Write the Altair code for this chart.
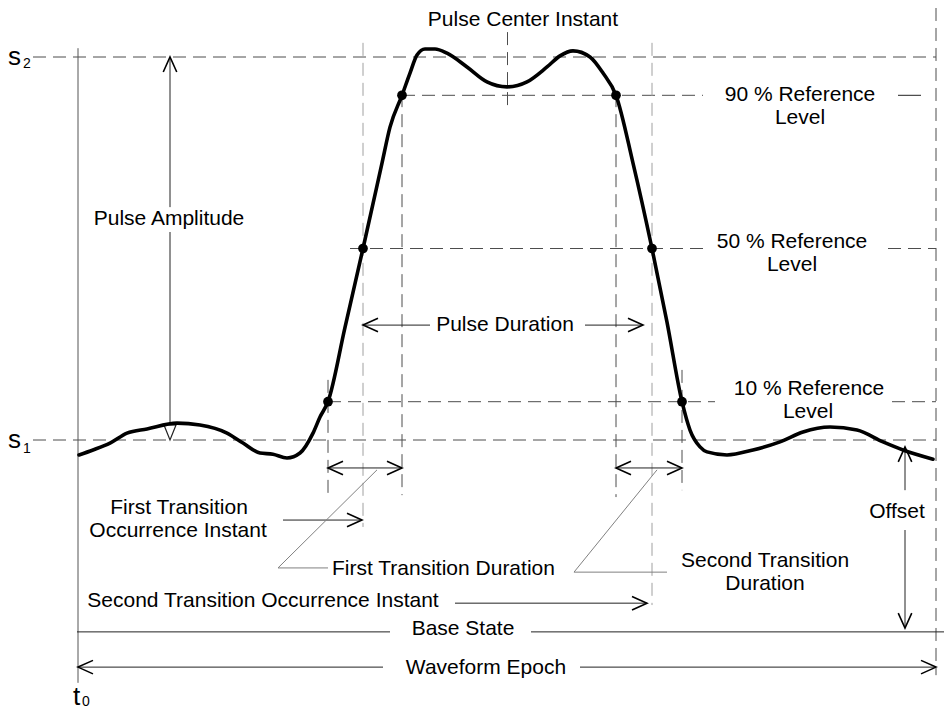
import altair as alt
import pandas as pd

# ---------------- data (time in units from t0, level in % of pulse amplitude: s1 = 0, s2 = 100)
wave_t = [1, 15, 32, 49, 69, 99, 122, 149, 165, 182, 195, 209, 222, 235, 242, 250, 267, 285,
          304, 312, 324, 332, 339, 347, 357, 369, 389, 409, 429, 449, 469, 482, 495, 512, 525,
          538, 555, 574, 589, 604, 612, 622, 629, 649, 675, 702, 725, 752, 779, 805, 825, 855]
wave_level = [-3.9, -2.6, -0.8, 1.8, 2.9, 4.4, 3.9, 1.8, -0.8, -3.4, -3.7, -4.7, -3.4, 1.8, 6.0,
              10, 29.4, 50, 72.3, 81.7, 90, 95.8, 100.5, 102.1, 102.1, 101.0, 97.4, 93.5, 92.2,
              93.5, 97.4, 100.3, 101.6, 100, 95.8, 90, 72.3, 50, 30.8, 10, 2.6, -1.8, -3.1, -3.9,
              -2.6, -0.5, 2.1, 3.4, 2.6, -0.5, -2.6, -5.0]

# reference-level crossings (first and second transition)
cross_t = [250, 285, 324, 538, 574, 604]
cross_level = [10, 50, 90, 90, 50, 10]

# states
s1_level = 0
s2_level = 100

# dashed reference lines: t1, t2, level1, level2
dash_t1 = [-45, -45, 324, 272, 810, 250, 814, 250, 324, 429.5, 538, 604, 858]
dash_t2 = [858, 858, 625, 627, 858, 637, 858, 250, 324, 429.5, 538, 604, 858]
dash_l1 = [100, 0, 90, 50, 50, 10, 10, 15.7, 90.3, 106.5, 90.3, 18.3, 112.8]
dash_l2 = [100, 0, 90, 50, 50, 10, 10, -14.4, -14.4, 86.2, -14.9, -13.1, -61.4]

# light dashed lines (50 % instants)
light_t = [285, 574]
light_l1 = [103.7, 103.7]
light_l2 = [-22.7, -43.1]

# solid annotation lines
sol_t1 = [92, 92, 285, 507, 250, 538, 205, 377, -1, 453, 0, 502, 827, 827, 820]
sol_t2 = [92, 92, 352, 565, 324, 604, 284, 569, 312, 874, 305, 858, 827, 827, 843]
sol_l1 = [100, 54.3, 30, 30, -7.3, -7.3, -20.9, -42.6, -50.1, -50.1, -59.3, -59.3, -1.8, -23.5, 90]
sol_l2 = [60.8, 4.4, 30, 30, -7.3, -7.3, -20.9, -42.6, -50.1, -50.1, -59.3, -59.3, -13.1, -49.1, 90]

# t0 marker line
t0_t = [0, 0]
t0_level = [102.3, -63.4]

# leader lines (group, t, level)
lead_group = [1, 1, 1, 2, 2, 2]
lead_t = [299, 200, 250, 579, 496, 589]
lead_level = [-7.8, -33.4, -33.4, -7.8, -34.5, -34.5]

# arrowheads: t, level, direction (degrees, 0 = right)
arr_t = [92, 285, 565, 250, 324, 538, 604, 284, 569, 827, 827, 0, 858]
arr_level = [100, 30, 30, -7.3, -7.3, -7.3, -7.3, -20.9, -42.6, -1.8, -49.1, -59.3, -59.3]
arr_dir = [270, 180, 0, 180, 0, 180, 0, 0, 0, 270, 90, 180, 0]

# labels
lab_text = ["Pulse Center Instant", "Pulse Amplitude", "90 % Reference", "Level",
            "50 % Reference", "Level", "10 % Reference", "Level", "Pulse Duration",
            "First Transition", "Occurrence Instant", "First Transition Duration",
            "Second Transition", "Duration", "Second Transition Occurrence Instant",
            "Base State", "Waveform Epoch", "Offset"]
lab_t = [445, 91, 722, 722, 714, 714, 731, 730, 427, 101, 100, 254, 687, 687, 185, 385, 408, 819]
lab_level = [109.7, 57.7, 90.1, 84.1, 51.6, 45.7, 13.3, 7.3, 30.0, -17.8, -23.8, -33.7,
             -31.6, -37.6, -42.0, -49.3, -59.5, -18.8]
lab_align = ["center"] * 11 + ["left"] + ["center"] * 6

sym_text = ["s", "s", "t"]
sym_t = [-70, -70, -5]
sym_level = [97.9, -2.1, -69.2]
sub_text = ["2", "1", "0"]
sub_t = [-55, -55, 4]
sub_level = [97.1, -3.4, -69.5]

# ---------------- chart
FONT = "Liberation Sans"
xs = alt.Scale(domain=[-70, 866], nice=False, zero=False)
ys = alt.Scale(domain=[(440 - 711) / 3.83, (440 - 8) / 3.83], nice=False, zero=False)


def X(f="t"):
    return alt.X(f + ":Q", scale=xs, axis=None)


def Y(f="level"):
    return alt.Y(f + ":Q", scale=ys, axis=None)


seg_enc = dict(x=X("t1"), x2="t2:Q", y=Y("l1"), y2="l2:Q")

dash_df = pd.DataFrame({"t1": dash_t1, "t2": dash_t2, "l1": dash_l1, "l2": dash_l2})
dashed = alt.Chart(dash_df).mark_rule(color="#4d4d4d", strokeWidth=1, strokeDash=[13, 7]).encode(**seg_enc)

light_df = pd.DataFrame({"t1": light_t, "t2": light_t, "l1": light_l1, "l2": light_l2})
light = alt.Chart(light_df).mark_rule(color="#a0a0a0", strokeWidth=1, strokeDash=[13, 7]).encode(**seg_enc)

sol_df = pd.DataFrame({"t1": sol_t1, "t2": sol_t2, "l1": sol_l1, "l2": sol_l2})
solid = alt.Chart(sol_df).mark_rule(color="#222222", strokeWidth=1).encode(**seg_enc)

t0_df = pd.DataFrame({"t1": [t0_t[0]], "t2": [t0_t[1]], "l1": [t0_level[0]], "l2": [t0_level[1]]})
t0line = alt.Chart(t0_df).mark_rule(color="#555555", strokeWidth=1).encode(**seg_enc)

lead_df = pd.DataFrame({"g": lead_group, "t": lead_t, "level": lead_level,
                        "o": list(range(len(lead_t)))})
leaders = alt.Chart(lead_df).mark_line(color="#808080", strokeWidth=1).encode(
    x=X(), y=Y(), detail="g:N", order="o:Q")

wave_df = pd.DataFrame({"t": wave_t, "level": wave_level})
wave = alt.Chart(wave_df).mark_line(color="black", strokeWidth=3.6, interpolate="monotone",
                                    strokeCap="round", strokeJoin="round").encode(x=X(), y=Y())

cross_df = pd.DataFrame({"t": cross_t, "level": cross_level})
dots = alt.Chart(cross_df).mark_circle(color="black", size=95, opacity=1).encode(x=X(), y=Y())

arr_df = pd.DataFrame({"t": arr_t, "level": arr_level, "dir": arr_dir})
heads = alt.Chart(arr_df).mark_point(shape="M-1,-0.45L0,0L-1,0.45", filled=False, size=900,
                                     strokeWidth=1.6, color="black", opacity=1).encode(
    x=X(), y=Y(), angle=alt.Angle("dir:Q", scale=None))

tri_df = pd.DataFrame({"t": [92], "level": [s1_level]})
tri = alt.Chart(tri_df).mark_point(shape="M-0.5,-1.25L0.5,-1.25L0,0Z", filled=False, size=576,
                                   strokeWidth=1.2, color="#222222", opacity=1).encode(x=X(), y=Y())

lab_df = pd.DataFrame({"t": lab_t, "level": lab_level, "text": lab_text, "align": lab_align})
labels_c = alt.Chart(lab_df[lab_df["align"] == "center"]).mark_text(
    font=FONT, fontSize=21, color="black", align="center", baseline="middle").encode(
    x=X(), y=Y(), text="text:N")
labels_l = alt.Chart(lab_df[lab_df["align"] == "left"]).mark_text(
    font=FONT, fontSize=21, color="black", align="left", baseline="middle").encode(
    x=X(), y=Y(), text="text:N")

sym_df = pd.DataFrame({"t": sym_t, "level": sym_level, "text": sym_text})
syms = alt.Chart(sym_df).mark_text(font=FONT, fontSize=26, color="black", align="left",
                                   baseline="alphabetic").encode(x=X(), y=Y(), text="text:N")
sub_df = pd.DataFrame({"t": sub_t, "level": sub_level, "text": sub_text})
subs = alt.Chart(sub_df).mark_text(font=FONT, fontSize=14, color="black", align="left",
                                   baseline="alphabetic").encode(x=X(), y=Y(), text="text:N")

chart = alt.layer(dashed, light, t0line, solid, leaders, tri, heads, wave, dots,
                  labels_c, labels_l, syms, subs).properties(
    width=936, height=703, padding=0, autosize=alt.AutoSizeParams(type="none"),
    background="white").configure_view(stroke=None)

chart.save("out.html", embed_options={"renderer": "svg", "actions": False})
